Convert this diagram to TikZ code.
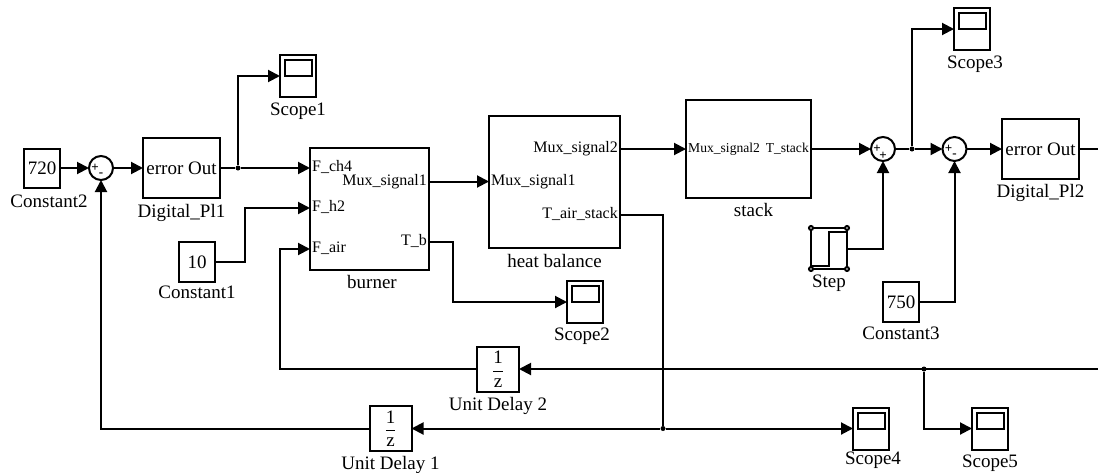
\documentclass[tikz,border=0pt]{standalone}
\usepackage{fontspec}
\setmainfont{Liberation Serif}
\usetikzlibrary{arrows.meta,calc,positioning}
\tikzset{
  wire/.style={line width=2pt,>={Triangle[length=12pt,width=12pt]}},
  block/.style={rectangle,draw,line width=2pt,inner sep=0pt,outer sep=0pt,font=\fontsize{19}{22}\selectfont},
  valueblock/.style={block,minimum width=36pt,minimum height=40pt},
  scopeblock/.style={block,minimum width=36pt,minimum height=42pt},
  delayblock/.style={block,minimum width=42pt,minimum height=45pt},
  sumblock/.style={circle,draw,line width=2pt,inner sep=0pt,outer sep=0pt,minimum size=24pt},
  sign/.style={inner sep=0pt,font=\bfseries\fontsize{13}{13}\selectfont},
  caption/.style={inner sep=0pt,text height=14.5pt,text depth=4pt,font=\fontsize{19}{22}\selectfont},
  portin/.style={anchor=west,inner sep=2pt,text height=10pt,text depth=3pt,font=\fontsize{16}{17}\selectfont},
  portout/.style={portin,anchor=east},
  dot/.style={circle,fill,inner sep=0pt,minimum size=5pt},
  handle/.style={circle,draw,fill=white,line width=2pt,inner sep=0pt,minimum size=4pt}
}

\begin{document}
\begin{tikzpicture}[x=1pt,y=1pt,on grid]
  \useasboundingbox (0,0) rectangle (1098,-472);

  \node (constant2) [valueblock,minimum height=39pt] at (42,-168) {720};
  \node (sum1)      [sumblock,right=59pt of constant2] {};
  \node (digital1)  [block,minimum width=77pt,minimum height=60pt,right=80.5pt of sum1] {error Out};
  \node (split1)    [dot,right=56.5pt of digital1] {};
  \node (scope1)    [scopeblock,above right=92pt and 116.5pt of digital1] {};
  \node (constant1) [valueblock,below right=94pt and 15.5pt of digital1] {10};
  \node (burner)    [block,minimum width=119pt,minimum height=122pt,below right=41pt and 188pt of digital1] {};
  \node (heat)      [block,minimum width=131pt,minimum height=132pt,above right=27pt and 185pt of burner] {};
  \node (scope2)    [scopeblock,below right=120pt and 30.5pt of heat] {};
  \node (stack)     [block,minimum width=125pt,minimum height=98pt,above right=33pt and 194pt of heat] {};
  \node (sum2)      [sumblock,right=134.5pt of stack] {};
  \node (split2)    [dot,right=29pt of sum2] {};
  \node (sum3)      [sumblock,right=71.5pt of sum2] {};
  \node (digital2)  [block,minimum width=77pt,minimum height=60pt,right=86pt of sum3] {error Out};
  \node (scope3)    [scopeblock,above right=120pt and 89pt of sum2] {};
  \node (stepblock) [valueblock,minimum height=41pt,below right=99.5pt and 80.5pt of stack] {};
  \node (constant3) [valueblock,below right=153pt and 18pt of sum2] {750};
  \node (delay2)    [delayblock,below right=160pt and 128.5pt of burner] {$\displaystyle\frac{\textrm{1}}{\textrm{z}}$};
  \node (delay1)    [delayblock,below left=59.5pt and 107.5pt of delay2] {$\displaystyle\frac{\textrm{1}}{\textrm{z}}$};
  \node (split3)    [dot,right=426pt of delay2] {};
  \node (split4)    [dot,right=272.5pt of delay1] {};
  \node (scope4)    [scopeblock,right=480.5pt of delay1] {};
  \node (scope5)    [scopeblock,right=119pt of scope4] {};
  \coordinate [right=57.5pt of digital2] (digital2out);
  \coordinate [right=600pt of delay2] (feedback);

  % block ports
  \node (burnerch4)  [portin]  at ($(burner.north west)+(0,-20)$)  {F\_ch4};
  \node (burnerh2)   [portin]  at ($(burner.north west)+(0,-60)$)  {F\_h2};
  \node (burnerair)  [portin]  at ($(burner.north west)+(0,-101)$) {F\_air};
  \node (burnermux)  [portout] at ($(burner.north east)+(0,-33.5)$) {Mux\_signal1};
  \node (burnertb)   [portout] at ($(burner.north east)+(0,-94)$)  {T\_b};
  \node (heatmux1)   [portin]  at ($(heat.north west)+(0,-65.5)$)  {Mux\_signal1};
  \node (heatmux2)   [portout] at ($(heat.north east)+(0,-33)$)    {Mux\_signal2};
  \node (heatair)    [portout] at ($(heat.north east)+(0,-99)$)    {T\_air\_stack};
  \node (stackmux)   [portin,font=\fontsize{13.6}{16}\selectfont]  at (stack.west) {Mux\_signal2};
  \node (stacktout)  [portout,font=\fontsize{13.6}{16}\selectfont] at (stack.east) {T\_stack};

  % signs of the sums
  \node (sum1a) [sign] at ($(sum1)+(-6,0)$)  {+};
  \node (sum1b) [sign] at ($(sum1)+(0,-7)$)  {-};
  \node (sum2a) [sign] at ($(sum2)+(-6,0)$)  {+};
  \node (sum2b) [sign] at ($(sum2)+(0,-7)$)  {+};
  \node (sum3a) [sign] at ($(sum3)+(-6,0)$)  {+};
  \node (sum3b) [sign] at ($(sum3)+(0,-7)$)  {-};

  % names under the blocks
  \node (constant2name) [caption,xshift=7pt,below=5pt of constant2.south] {Constant2};
  \node (digital1name)  [caption,below=5pt of digital1.south]             {Digital\_Pl1};
  \node (scope1name)    [caption,below=4pt of scope1.south]               {Scope1};
  \node (constant1name) [caption,below=2pt of constant1.south]            {Constant1};
  \node (burnername)    [caption,xshift=2.5pt,below=4pt of burner.south]  {burner};
  \node (heatname)      [caption,below=5pt of heat.south]                 {heat balance};
  \node (scope2name)    [caption,xshift=-3pt,below=3pt of scope2.south]   {Scope2};
  \node (stackname)     [caption,xshift=5pt,below=4pt of stack.south]     {stack};
  \node (scope3name)    [caption,xshift=3pt,below=4pt of scope3.south]    {Scope3};
  \node (digital2name)  [caption,below=4pt of digital2.south]             {Digital\_Pl2};
  \node (stepname)      [caption,below=4pt of stepblock.south]            {Step};
  \node (constant3name) [caption,below=3pt of constant3.south]            {Constant3};
  \node (delay2name)    [caption,below=4pt of delay2.south]               {Unit Delay 2};
  \node (delay1name)    [caption,below=4pt of delay1.south]               {Unit Delay 1};
  \node (scope4name)    [caption,xshift=2pt,below=0pt of scope4.south]    {Scope4};
  \node (scope5name)    [caption,below=3pt of scope5.south]               {Scope5};

  % scope screens
  \foreach \s in {scope1,scope2,scope3,scope4,scope5}
    \draw [line width=2pt] ($(\s.north west)+(5,-5)$) rectangle ($(\s.north east)+(-4,-21)$);

  % step icon
  \draw [line width=2pt] ($(stepblock.south west)+(0,3)$) -| ($(stepblock.north)+(0,-4)$) -- ($(stepblock.north east)+(0,-4)$);
  \foreach \a in {north west,north east,south west,south east}
    \node (handle \a) [handle] at (stepblock.\a) {};

  \path [wire]
        (constant2) edge[->] (sum1)
        (sum1) edge[->] (digital1)
        (digital1) edge (split1)
        (split1) edge[->] (burnerch4.west)
        (burnermux.east) edge[->] (heatmux1.west)
        (heatmux2.east) edge[->] (stackmux.west)
        (stacktout.east) edge[->] (sum2)
        (sum2) edge (split2)
        (split2) edge[->] (sum3)
        (sum3) edge[->] (digital2)
        (digital2) edge (digital2out)
        (feedback) edge[->] (delay2)
        (split4) edge[->] (delay1)
        (split4) edge[->] (scope4);

  \draw [wire,->] (split1) |- (scope1);
  \draw [wire,->] (constant1.east) -- ++(30,0) |- (burnerh2.west);
  \draw [wire,->] (delay2.west) -- ++(-197,0) |- (burnerair.west);
  \draw [wire,->] (delay1) -| (sum1);
  \draw [wire,->] (burnertb.east) -- ++(24,0) |- (scope2);
  \draw [wire] (heatair.east) -| (split4);
  \draw [wire,->] (split2) |- (scope3);
  \draw [wire,->] (stepblock) -| (sum2);
  \draw [wire,->] (constant3) -| (sum3);
  \draw [wire,->] (split3) |- (scope5);
\end{tikzpicture}
\end{document}
